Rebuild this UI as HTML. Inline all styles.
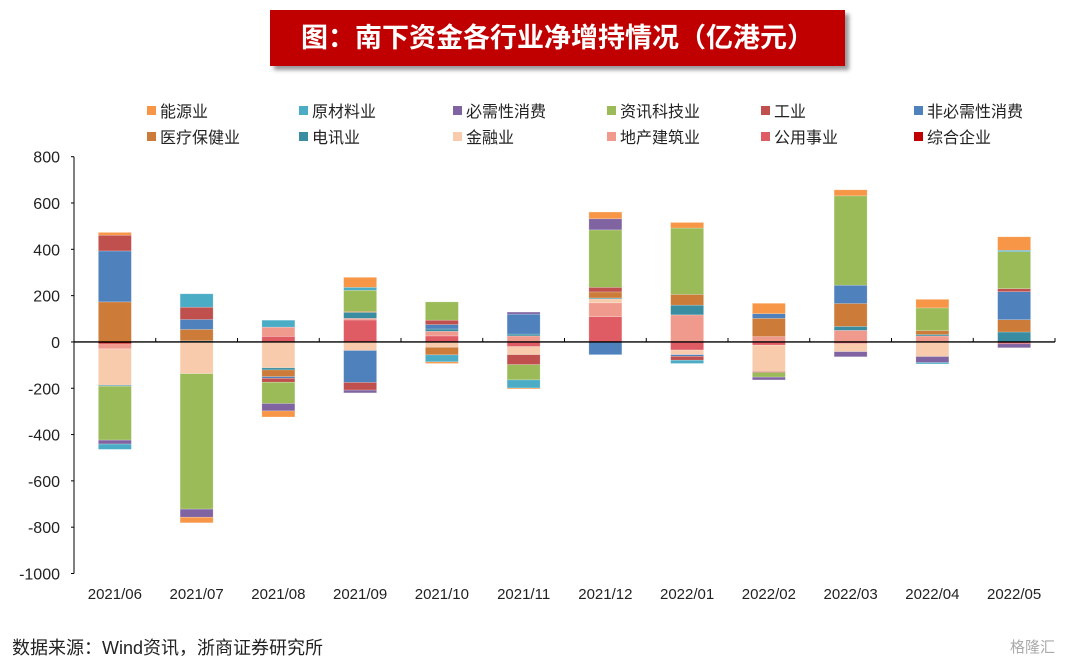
<!DOCTYPE html>
<html><head><meta charset="utf-8"><style>
body{margin:0;background:#fff;width:1080px;height:664px;overflow:hidden;font-family:"Liberation Sans","Noto Sans CJK SC",sans-serif;}
#title{position:absolute;left:270px;top:10px;width:575px;height:56px;background:#C00000;box-shadow:4px 4px 4px #999;color:#fff;font-size:27px;font-weight:bold;text-align:center;line-height:56px;}
#src{position:absolute;left:12px;top:634px;font-size:18px;color:#222;}
#wm{position:absolute;left:1010px;top:636px;font-size:15px;color:#aaa;}
</style></head><body>
<div id="title">图：南下资金各行业净增持情况（亿港元）</div>
<svg id="chart" width="1080" height="664" style="position:absolute;left:0;top:0"></svg>
<div id="src">数据来源：Wind资讯，浙商证券研究所</div>
<div id="wm">格隆汇</div>
<script>
const categories=["2021/06","2021/07","2021/08","2021/09","2021/10","2021/11","2021/12","2022/01","2022/02","2022/03","2022/04","2022/05"];
const seriesNames=["能源业","原材料业","必需性消费","资讯科技业","工业","非必需性消费","医疗保健业","电讯业","金融业","地产建筑业","公用事业","综合企业"];
const seriesColors=["#F79646","#4BACC6","#8064A2","#9BBB59","#C0504D","#4F81BD","#CC7B38","#3A8DA0","#F8CBAD","#F09A8E","#E05C65","#C00000"];
const energy=[12,-24,-26,43,-7,-4,29,24,45,26,37,58];
const materials=[-23,58,30,13,-30,-35,0,-14,0,0,-6,6];
const staples=[-17,-35,-32,-12,0,9,48,0,-12,-22,-26,-17];
const tech=[-233,-585,-92,91,79,-66,248,287,-20,386,98,160];
const industrial=[68,53,-17,-33,19,-43,20,-17,-4,0,0,13];
const discretionary=[220,43,-7,-138,19,86,-55,-7,20,79,0,121];
const healthcare=[173,49,-29,4,-33,0,26,46,79,99,17,53];
const telecom=[-4,5,-9,26,10,8,4,42,0,17,6,43];
const financials=[-157,-137,-112,-37,-23,-35,17,-20,-114,-35,-63,0];
const property=[-22,0,40,7,20,26,60,117,23,50,26,0];
const utilities=[0,0,24,95,26,-20,109,-35,-14,-7,0,-8];
const conglomerates=[-8,0,0,0,0,0,0,0,0,0,0,0];
const yTicks=[800,600,400,200,0,-200,-400,-600,-800,-1000];
const seriesData=[energy,materials,staples,tech,industrial,discretionary,healthcare,telecom,financials,property,utilities,conglomerates];
const NS="http://www.w3.org/2000/svg";
const svg=document.getElementById('chart');
const X0=74,X1=1055,Y800=156.7,Ym1000=573.5;
const y=v=>Y800+(800-v)*(Ym1000-Y800)/1800;
const bw=(X1-X0)/categories.length;
const xc=i=>X0+bw*(i+0.5);
function mk(t,a){const e=document.createElementNS(NS,t);for(const k in a)e.setAttribute(k,a[k]);svg.appendChild(e);return e;}
// legend
seriesNames.forEach((n,i)=>{
  const col=i%6,row=Math.floor(i/6);
  const lx=[147,299,453,607,761,914][col],ly=row?137:111;
  const r=mk('rect',{x:lx,y:ly-5,width:9,height:9,fill:seriesColors[i]});
  
  
  const t=mk('text',{x:lx+13,y:ly+6,'font-size':16,fill:'#222'});
  t.textContent=n;
  
  
});
// y axis
const ax=mk('line',{x1:X0,y1:Y800,x2:X0,y2:Ym1000,stroke:'#000','stroke-width':1});


yTicks.forEach(v=>{
  mk('line',{x1:X0-3,y1:y(v),x2:X0,y2:y(v),stroke:'#000'});
  const t=mk('text',{x:60,y:y(v)+6,'font-size':16,fill:'#222','text-anchor':'end'});
  t.textContent=v;
  
  
});
// bars: stack order bottom-up = reverse legend
categories.forEach((c,i)=>{
  let pos=0,neg=0;
  for(let s=seriesData.length-1;s>=0;s--){
    const v=seriesData[s][i];if(!v)continue;
    let a,b;
    if(v>0){a=pos;b=pos+v;pos=b;}else{a=neg;b=neg+v;neg=b;}
    const r=mk('rect',{x:xc(i)-16.5,y:Math.min(y(a),y(b)),width:33,height:Math.abs(y(a)-y(b)),fill:seriesColors[s],stroke:'#fff','stroke-opacity':0.35,'stroke-width':0.6});
    
    
  }
  const t=mk('text',{x:xc(i),y:599,'font-size':15,fill:'#222','text-anchor':'middle'});
  t.textContent=c;
  
  
});
const za=mk('line',{x1:X0,y1:y(0),x2:X1,y2:y(0),stroke:'#000','stroke-width':1.3});


for(let i=0;i<=categories.length;i++)mk('line',{x1:X0+bw*i,y1:y(0),x2:X0+bw*i,y2:y(0)-4,stroke:'#000'});
</script>
</body></html>
